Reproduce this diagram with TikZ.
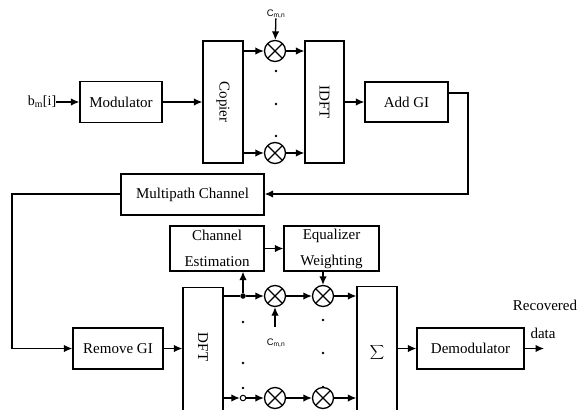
\documentclass[tikz,border=0pt]{standalone}
\usepackage{fontspec}
\setmainfont{Liberation Serif}
\newfontfamily\cmnfont{Liberation Sans}
\usetikzlibrary{arrows.meta}
\begin{document}
\begin{tikzpicture}[x=1pt,y=-1pt,
  box/.style={draw, line width=1.3pt, inner sep=0pt, font=\fontsize{15}{18}\selectfont},
  mult/.style={draw, circle, line width=1.3pt, minimum size=21pt, inner sep=0pt,
    path picture={\draw[line width=1.3pt] (path picture bounding box.north west) -- (path picture bounding box.south east)
      (path picture bounding box.north east) -- (path picture bounding box.south west);}},
  arr/.style={line width=1.3pt, -{Latex[length=8.5pt,width=7.5pt]}},
  ln/.style={line width=1.3pt},
  lbl/.style={font=\fontsize{15}{18}\selectfont, inner sep=0pt},
  small/.style={font=\cmnfont\fontsize{9.5}{11}\selectfont, inner sep=0pt},
  dotn/.style={circle, fill, inner sep=0pt, minimum size=2.8pt}
]
\useasboundingbox (0,0) rectangle (577,409);
\clip (0,0) rectangle (577,409);
% transmitter
\node[lbl, font=\fontsize{14}{16}\selectfont] (bm) at (42,102) {b\textsubscript{m}[i]};
\node[box, minimum width=82pt, minimum height=41pt] (mod) at (121,102) {Modulator};
\node[box, minimum width=40pt, minimum height=122pt] (cop) at (223,102) {\rotatebox{-90}{Copier}};
\node[mult] (m1) at (275,51) {};
\node[mult] (m2) at (275,153) {};
\node[small] (c1) at (276,14) {C\textsubscript{m,n}};
\node[box, minimum width=39pt, minimum height=122pt] (idft) at (324.5,102) {\rotatebox{-90}{IDFT}};
\node[box, minimum width=83pt, minimum height=40pt] (agi) at (406.5,102) {Add GI};
\node[dotn] (t1) at (276,71) {};
\node[dotn] (t2) at (276,104) {};
\node[dotn] (t3) at (276,136) {};
% channel
\node[box, minimum width=143pt, minimum height=41pt] (mpc) at (192.5,194.5) {Multipath Channel};
% receiver
\node[box, minimum width=90pt, minimum height=41pt] (rgi) at (118,348.5) {Remove GI};
\node[box, minimum width=40pt, minimum height=160pt, anchor=north] (dft) at (203,287) {};
\node[lbl] (dftt) at (203,347) {\rotatebox{-90}{DFT}};
\node[box, minimum width=94pt, minimum height=45pt, align=center] (ce) at (217,248.5) {Channel\\[8pt]Estimation};
\node[box, minimum width=95pt, minimum height=45pt, align=center] (eq) at (331.5,248.5) {Equalizer\\[8pt]Weighting};
\node[box, minimum width=40pt, minimum height=160pt, anchor=north] (sig) at (377,286) {};
\node[inner sep=0pt] (sigt) at (377,352) {\fontsize{19}{22}\selectfont$\displaystyle\sum$};
\node[box, minimum width=107pt, minimum height=41pt] (dem) at (470.5,348.5) {Demodulator};
\node[lbl] (rec) at (545,305) {Recovered};
\node[lbl] (dat) at (543,333) {data};
\coordinate (out) at (544,348.5);
\node[dotn, minimum size=5.5pt] (j1) at (243,296) {};
\node[circle, draw, line width=1pt, minimum size=5.5pt, inner sep=0pt, fill=white] (j2) at (243,398) {};
\node[mult] (mc1) at (275,296) {};
\node[mult] (mw1) at (323,296) {};
\node[mult] (mc2) at (275,398) {};
\node[mult] (mw2) at (323,398) {};
\node[small] (c2) at (276,343) {C\textsubscript{m,n}};
\coordinate (c2a) at (275,327);
\node[dotn] (b1) at (243,322) {};
\node[dotn] (b2) at (243,363) {};
\node[dotn] (b3) at (243,388) {};
\node[dotn] (b4) at (323,320) {};
\node[dotn] (b5) at (323,353) {};
\node[dotn] (b6) at (323,387) {};
% connectors
\draw[arr] (bm) -- (mod);
\draw[arr] (mod) -- (cop);
\draw[arr] (cop.east |- m1) -- (m1);
\draw[arr] (cop.east |- m2) -- (m2);
\draw[arr] (c1) -- (m1);
\draw[arr] (m1) -- (idft.west |- m1);
\draw[arr] (m2) -- (idft.west |- m2);
\draw[arr] (idft) -- (agi);
\coordinate (k1) at (468,93);
\coordinate (k2) at (468,194);
\coordinate (k3) at (12,194);
\coordinate (k4) at (12,348.5);
\draw[arr] (agi.east |- k1) -- (k1) -- (k2) -- (k2 -| mpc.east);
\draw[arr] (mpc.west |- k3) -- (k3) -- (k4) -- (rgi.west);
\draw[arr] (rgi) -- (rgi -| dft.west);
\draw[ln] (dft.east |- j1) -- (j1);
\draw[arr] (j1) -- (mc1);
\draw[arr] (j1) -- (j1 |- ce.south);
\draw[arr] (ce) -- (eq);
\draw[arr] (c2a) -- (mc1);
\draw[arr] (mc1) -- (mw1);
\draw[arr] (mw1 |- eq.south) -- (mw1);
\draw[arr] (mw1) -- (mw1 -| sig.west);
\draw[arr] (dft.east |- j2) -- (j2);
\draw[arr] (j2) -- (mc2);
\draw[arr] (mc2) -- (mw2);
\draw[arr] (mw2) -- (mw2 -| sig.west);
\draw[arr] (sig.east |- dem) -- (dem);
\draw[arr] (dem) -- (out);
\end{tikzpicture}
\end{document}
